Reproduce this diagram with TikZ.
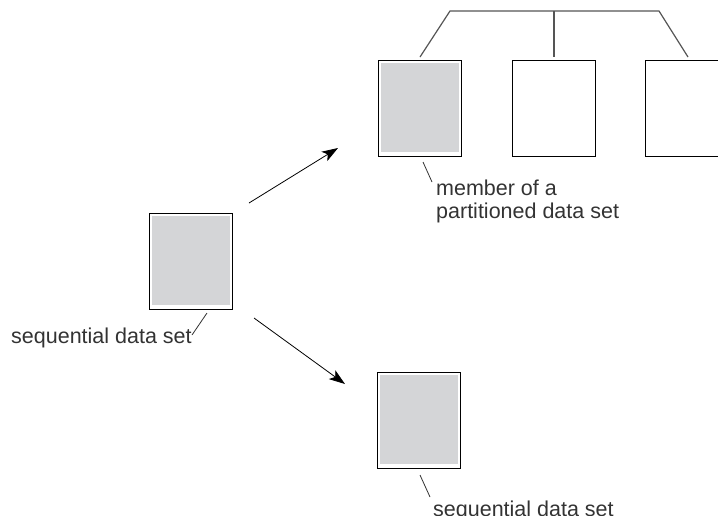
\documentclass[tikz,border=0pt]{standalone}
\usepackage{fontspec}
\setmainfont{Liberation Sans}
\usetikzlibrary{arrows.meta}
\definecolor{boxgray}{HTML}{D4D5D7}
\definecolor{txtgray}{HTML}{333333}
\definecolor{linegray}{HTML}{555555}
\begin{document}
\begin{tikzpicture}[x=1pt,y=-1pt,
  dsbox/.style={draw=black, line width=0.9pt, fill=white, minimum width=83pt, minimum height=96pt, inner sep=0pt, anchor=north west},
  filled/.style={path picture={\fill[boxgray] ([shift={(2.5pt,4pt)}]path picture bounding box.south west) rectangle ([shift={(-2.5pt,-2.5pt)}]path picture bounding box.north east);}},
  lbl/.style={font=\fontsize{21.5}{23}\selectfont, text=txtgray, inner sep=0pt, align=left},
  treeline/.style={draw=linegray, line width=1.2pt},
  pointer/.style={draw=txtgray, line width=0.8pt},
  arr/.style={draw=black, line width=0.8pt, -{Stealth[length=16pt,width=11pt,inset=4pt]}}]
\useasboundingbox (0,0) rectangle (718,515);
% boxes
\node[dsbox, filled] (left) at (149,213) {};
\node[dsbox, filled] (m1) at (378,60) {};
\node[dsbox] (m2) at (512,60) {};
\node[dsbox] (m3) at (645,60) {};
\node[dsbox, filled] (bot) at (377,372) {};
% tree
\coordinate (tl) at (450,11);
\coordinate (tm) at (554,11);
\coordinate (tr) at (659,11);
\coordinate (e1) at (420,57);
\coordinate (e2) at (554,57);
\coordinate (e3) at (688,57);
\draw[treeline] (e1) -- (tl) -- (tr) -- (e3);
\draw[treeline] (tm) -- (e2);
% arrows
\coordinate (a1s) at (249,203);
\coordinate (a1e) at (338,148);
\coordinate (a2s) at (254,318);
\coordinate (a2e) at (345,384);
\draw[arr] (a1s) -- (a1e);
\draw[arr] (a2s) -- (a2e);
% labels
\node[lbl, anchor=base west] (lm) at (436,218) {member of a\\partitioned data set};
\coordinate (p1s) at (423,162);
\coordinate (p1e) at (432,182);
\draw[pointer] (p1s) -- (p1e);
\node[lbl, anchor=base west] (ll) at (11,343) {sequential data set};
\coordinate (p2s) at (207,313);
\coordinate (p2e) at (192,335);
\draw[pointer] (p2s) -- (p2e);
\node[lbl, anchor=base west] (lb) at (433,516) {sequential data set};
\coordinate (p3s) at (420,475);
\coordinate (p3e) at (430,497);
\draw[pointer] (p3s) -- (p3e);
\end{tikzpicture}
\end{document}
